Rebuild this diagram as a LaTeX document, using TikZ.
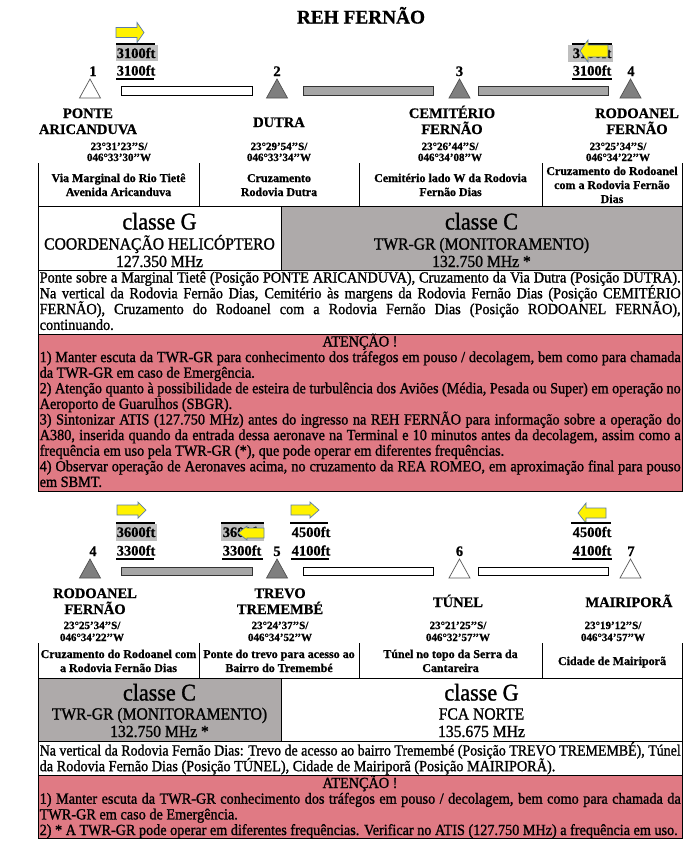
\documentclass[tikz,border=0pt]{standalone}
\usepackage{fontspec}
\usepackage{graphicx}
\setmainfont{Liberation Serif}[BoldFeatures={FakeBold=0.8}]
\newfontfamily\bodyf{Liberation Serif}[FakeStretch=0.92,FakeBold=1.2]
\definecolor{pinkbg}{RGB}{224,122,132}
\definecolor{clsgray}{RGB}{174,170,170}
\definecolor{bargray}{RGB}{166,166,166}
\definecolor{ftgray}{RGB}{191,191,191}
\definecolor{trigray}{RGB}{127,127,127}
\definecolor{tridark}{RGB}{80,80,80}
\definecolor{arrowedge}{RGB}{91,123,168}
\newcommand\jline[1]{\setbox0\hbox{#1}\ifdim\wd0>641pt\resizebox{641pt}{\height}{#1}\else\makebox[641pt][s]{#1}\fi}
\newcommand\fitline[1]{\setbox0\hbox{#1}\ifdim\wd0>638pt\resizebox{638pt}{\height}{#1}\else\box0\fi}
\newcommand\yarr[6]{\draw[yarrow] (#1,#4-#5) -- (#2,#4-#5) -- (#2,#4-#6) -- (#3,#4) -- (#2,#4+#6) -- (#2,#4+#5) -- (#1,#4+#5) -- cycle;}
\newcommand\tri[3]{\draw[#3] (#1,#2) -- ++(10.5,19) -- ++(-21,0) -- cycle;}
\begin{document}
\begin{tikzpicture}[x=1pt,y=-1pt,
  tb/.style={inner sep=0pt, anchor=base},
  ttl/.style={tb, font=\bfseries\fontsize{19.3}{22}\selectfont},
  lbl/.style={tb, font=\bfseries\fontsize{14.5}{16}\selectfont},
  crd/.style={tb, font=\bfseries\fontsize{11}{12}\selectfont},
  cel/.style={tb, font=\bfseries\fontsize{12}{14}\selectfont},
  cls/.style={tb, font=\bodyf\fontsize{24}{26}\selectfont},
  frq/.style={tb, font=\bodyf\fontsize{17}{18}\selectfont},
  bdy/.style={inner sep=0pt, anchor=base west, font=\bodyf\fontsize{15.5}{16}\selectfont},
  bdc/.style={bdy, anchor=base},
  ftl/.style={inner sep=0pt, anchor=base west, font=\bfseries\fontsize{14.5}{16}\selectfont},
  blk/.style={line width=2pt},
  yarrow/.style={fill=yellow, draw=arrowedge, line width=0.7pt, line join=miter},
  wbar/.style={fill=white, draw=black, line width=0.8pt},
  gbar/.style={fill=bargray, draw=black!80, line width=0.8pt},
  wtri/.style={fill=white, draw=black!65, line width=0.7pt},
  gtri/.style={fill=trigray, draw=tridark, line width=0.7pt},
  box/.style={draw=black, line width=0.8pt}]
\useasboundingbox (0,0) rectangle (691,857);
\fill[white] (0,0) rectangle (691,857);

\node[ttl] (title) at (361,23.5) {REH FERNÃO};

% ---------- upper route ----------
\fill[ftgray] (116,44.5) rectangle (158,61);
\draw[blk] (116,43.5) -- (155,43.5);
\node[ftl] (a1) at (116.5,58) {3100ft};
\yarr{116}{137}{144}{32.5}{5}{10}
\node[ftl] (a2) at (116.5,75.5) {3100ft};
\draw[blk] (116,78.5) -- (154,78.5);

\fill[ftgray] (568,44.5) rectangle (613,61.5);
\draw[blk] (572,43.5) -- (612,43.5);
\node[ftl] (a3) at (572.5,58) {3100ft};
\yarr{608}{588}{580}{51}{6}{11}
\node[ftl] (a4) at (572.5,75.5) {3100ft};
\draw[blk] (572,78.5) -- (612,78.5);

\node[lbl] (n1) at (93,76) {1};
\node[lbl] (n2) at (277,76) {2};
\node[lbl] (n3) at (459.5,76) {3};
\node[lbl] (n4) at (631,76) {4};

\tri{90}{79}{wtri}
\tri{277}{79}{gtri}
\tri{459.5}{79}{gtri}
\tri{630.5}{79}{gtri}
\draw[wbar] (121,86) rectangle (252,95);
\draw[gbar] (303,86) rectangle (433,95);
\draw[gbar] (478,86) rectangle (608,95);

\node[lbl] (p1a) at (88,118) {PONTE};
\node[lbl] (p1b) at (88,134) {ARICANDUVA};
\node[crd] (c1a) at (119,150) {23°31’23’’S/};
\node[crd] (c1b) at (119,161) {046°33’30’’W};
\node[lbl] (p2a) at (279,127) {DUTRA};
\node[crd] (c2a) at (279,150) {23°29’54’’S/};
\node[crd] (c2b) at (279,161) {046°33’34’’W};
\node[lbl] (p3a) at (452,118) {CEMITÉRIO};
\node[lbl] (p3b) at (452,134) {FERNÃO};
\node[crd] (c3a) at (450,150) {23°26’44’’S/};
\node[crd] (c3b) at (450,161) {046°34’08’’W};
\node[lbl] (p4a) at (637,118) {RODOANEL};
\node[lbl] (p4b) at (637,134) {FERNÃO};
\node[crd] (c4a) at (618,150) {23°25’34’’S/};
\node[crd] (c4b) at (618,161) {046°34’22’’W};

\foreach \x in {38,199,359,542,682} \draw[box] (\x,163) -- (\x,206);
\node[cel] (t1a) at (118.5,182) {Via Marginal do Rio Tietê};
\node[cel] (t1b) at (118.5,196) {Avenida Aricanduva};
\node[cel] (t2a) at (279,182) {Cruzamento};
\node[cel] (t2b) at (279,196) {Rodovia Dutra};
\node[cel] (t3a) at (450.5,182) {Cemitério lado W da Rodovia};
\node[cel] (t3b) at (450.5,196) {Fernão Dias};
\node[cel] (t4a) at (612,175) {Cruzamento do Rodoanel};
\node[cel] (t4b) at (612,189) {com a Rodovia Fernão};
\node[cel] (t4c) at (612,203) {Dias};

\fill[clsgray] (281,206) rectangle (682,270);
\draw[box] (38,206) rectangle (682,270);
\draw[box] (281,206) -- (281,270);
\node[cls] (k1) at (159.5,229.5) {classe G};
\node[frq] (k1b) at (159.5,249.5) {COORDENAÇÃO HELICÓPTERO};
\node[frq] (k1c) at (159.5,267) {127.350 MHz};
\node[cls] (k2) at (481.5,229.5) {classe C};
\node[frq] (k2b) at (481.5,249.5) {TWR-GR (MONITORAMENTO)};
\node[frq] (k2c) at (481.5,267) {132.750 MHz *};

\draw[box] (38,270) rectangle (682,334);
\node[bdy] (d1) at (39.5,282.5) {\jline{Ponte sobre a Marginal Tietê (Posição PONTE ARICANDUVA), Cruzamento da Via Dutra (Posição DUTRA).}};
\node[bdy] (d2) at (39.5,298.3) {\jline{Na vertical da Rodovia Fernão Dias, Cemitério às margens da Rodovia Fernão Dias (Posição CEMITÉRIO}};
\node[bdy] (d3) at (39.5,314.1) {\jline{FERNÃO), Cruzamento do Rodoanel com a Rodovia Fernão Dias (Posição RODOANEL FERNÃO),}};
\node[bdy] (d4) at (39.5,329.9) {continuando.};

\filldraw[box, fill=pinkbg] (38,334) rectangle (682,491);
\node[bdc] (w0) at (360,346.5) {ATENÇÃO !};
\node[bdy] (w1) at (39.5,362.1) {\jline{1) Manter escuta da TWR-GR para conhecimento dos tráfegos em pouso / decolagem, bem como para chamada}};
\node[bdy] (w2) at (39.5,377.7) {da TWR-GR em caso de Emergência.};
\node[bdy] (w3) at (39.5,393.3) {\jline{2) Atenção quanto à possibilidade de esteira de turbulência dos Aviões (Média, Pesada ou Super) em operação no}};
\node[bdy] (w4) at (39.5,408.9) {Aeroporto de Guarulhos (SBGR).};
\node[bdy] (w5) at (39.5,424.5) {\jline{3) Sintonizar ATIS (127.750 MHz) antes do ingresso na REH FERNÃO para informação sobre a operação do}};
\node[bdy] (w6) at (39.5,440.1) {\jline{A380, inserida quando da entrada dessa aeronave na Terminal e 10 minutos antes da decolagem, assim como a}};
\node[bdy] (w7) at (39.5,455.7) {frequência em uso pela TWR-GR (*), que pode operar em diferentes frequências.};
\node[bdy] (w8) at (39.5,471.3) {\jline{4) Observar operação de Aeronaves acima, no cruzamento da REA ROMEO, em aproximação final para pouso}};
\node[bdy] (w9) at (39.5,486.9) {em SBMT.};

% ---------- lower route ----------
\yarr{117}{138}{146}{510}{5}{8}
\fill[ftgray] (116,524) rectangle (157,540.5);
\draw[blk] (116,523) -- (155,523);
\node[ftl] (b1) at (116.5,537) {3600ft};
\node[ftl] (b2) at (116.5,555.5) {3300ft};
\draw[blk] (116,559) -- (154,559);

\fill[ftgray] (221,524) rectangle (264,540.5);
\draw[blk] (221,523) -- (264,523);
\node[ftl] (b3) at (222.5,537) {3600ft};
\yarr{264}{247}{238}{533}{5}{7}
\node[ftl] (b4) at (222.5,555.5) {3300ft};
\draw[blk] (222,559) -- (263,559);

\yarr{291}{310}{319}{510}{5}{8}
\draw[blk] (290,523) -- (328,523);
\node[ftl] (b5) at (291.5,537) {4500ft};
\node[ftl] (b6) at (291.5,555.5) {4100ft};
\draw[blk] (291,559) -- (329,559);

\yarr{606}{586}{578}{513}{5}{10}
\draw[blk] (571,523) -- (611,523);
\node[ftl] (b7) at (572.5,537) {4500ft};
\node[ftl] (b8) at (572.5,555.5) {4100ft};
\draw[blk] (572,559) -- (612,559);

\node[lbl] (m4) at (93,556) {4};
\node[lbl] (m5) at (277,556) {5};
\node[lbl] (m6) at (459.5,556) {6};
\node[lbl] (m7) at (631,556) {7};

\tri{90}{559}{gtri}
\tri{277}{559}{gtri}
\tri{459.5}{559}{wtri}
\tri{630.5}{559}{wtri}
\draw[gbar] (121,567) rectangle (252,575.5);
\draw[wbar] (303,567) rectangle (433,575.5);
\draw[wbar] (478,567) rectangle (608,575.5);

\node[lbl] (q4a) at (95,598) {RODOANEL};
\node[lbl] (q4b) at (95,614) {FERNÃO};
\node[crd] (e4a) at (92,629) {23°25’34’’S/};
\node[crd] (e4b) at (92,641) {046°34’22’’W};
\node[lbl] (q5a) at (280,598) {TREVO};
\node[lbl] (q5b) at (280,614) {TREMEMBÉ};
\node[crd] (e5a) at (280,629) {23°24’37’’S/};
\node[crd] (e5b) at (280,641) {046°34’52’’W};
\node[lbl] (q6a) at (458,607) {TÚNEL};
\node[crd] (e6a) at (458,629) {23°21’25’’S/};
\node[crd] (e6b) at (458,641) {046°32’57’’W};
\node[lbl] (q7a) at (629,607) {MAIRIPORÃ};
\node[crd] (e7a) at (613,629) {23°19’12’’S/};
\node[crd] (e7b) at (613,641) {046°34’57’’W};

\foreach \x in {38,199,359,542,682} \draw[box] (\x,643) -- (\x,678);
\node[cel] (s1a) at (118.5,658) {Cruzamento do Rodoanel com};
\node[cel] (s1b) at (118.5,672) {a Rodovia Fernão Dias};
\node[cel] (s2a) at (279,658) {Ponte do trevo para acesso ao};
\node[cel] (s2b) at (279,672) {Bairro do Tremembé};
\node[cel] (s3a) at (450.5,658) {Túnel no topo da Serra da};
\node[cel] (s3b) at (450.5,672) {Cantareira};
\node[cel] (s4a) at (612,665) {Cidade de Mairiporã};

\fill[clsgray] (38,678) rectangle (281,741);
\draw[box] (38,678) rectangle (682,741);
\draw[box] (281,678) -- (281,741);
\node[cls] (k3) at (159.5,700.5) {classe C};
\node[frq] (k3b) at (159.5,719.5) {TWR-GR (MONITORAMENTO)};
\node[frq] (k3c) at (159.5,737) {132.750 MHz *};
\node[cls] (k4) at (481.5,700.5) {classe G};
\node[frq] (k4b) at (481.5,719.5) {FCA NORTE};
\node[frq] (k4c) at (481.5,737) {135.675 MHz};

\draw[box] (38,741) rectangle (682,775);
\node[bdy] (f1) at (39.5,755.5) {\jline{Na vertical da Rodovia Fernão Dias: Trevo de acesso ao bairro Tremembé (Posição TREVO TREMEMBÉ), Túnel}};
\node[bdy] (f2) at (39.5,771.2) {da Rodovia Fernão Dias (Posição TÚNEL), Cidade de Mairiporã (Posição MAIRIPORÃ).};

\filldraw[box, fill=pinkbg] (38,775) rectangle (682,838);
\node[bdc] (v0) at (360,788) {ATENÇÃO !};
\node[bdy] (v1) at (39.5,803.7) {\jline{1) Manter escuta da TWR-GR conhecimento dos tráfegos em pouso / decolagem, bem como para chamada da}};
\node[bdy] (v2) at (39.5,819.4) {TWR-GR em caso de Emergência.};
\node[bdy] (v3) at (39.5,835) {\fitline{2) * A TWR-GR pode operar em diferentes frequências. Verificar no ATIS (127.750 MHz) a frequência em uso.}};
\end{tikzpicture}
\end{document}
